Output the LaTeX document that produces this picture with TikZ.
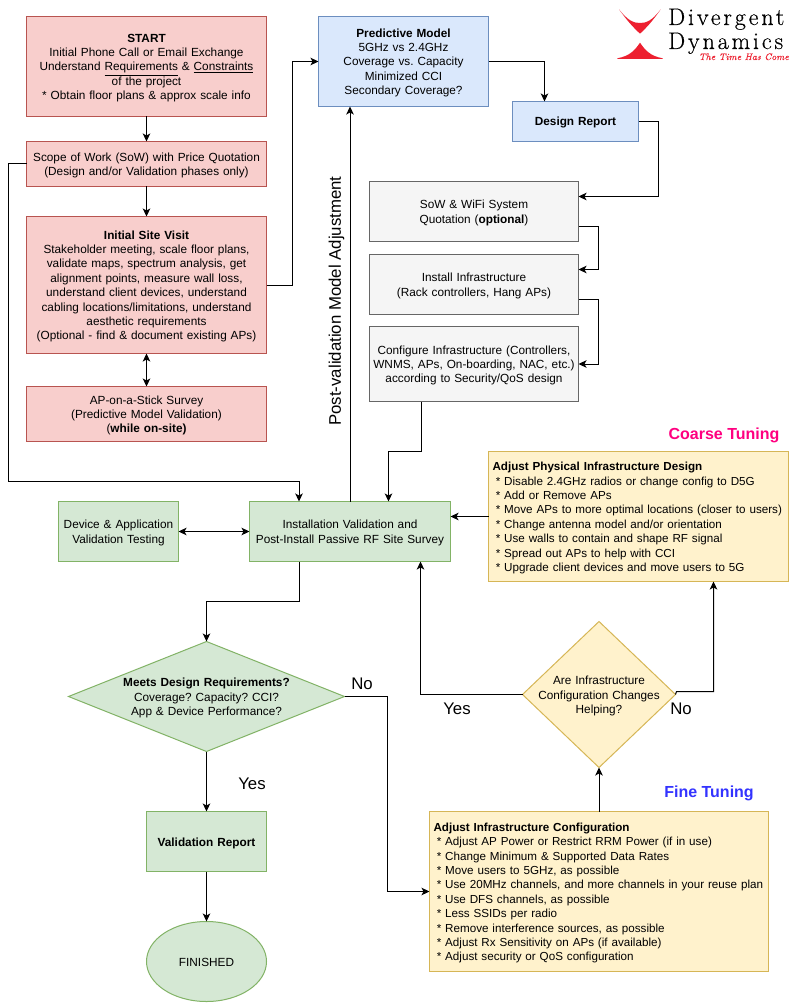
\documentclass[tikz,border=0pt]{standalone}
\usepackage{fontspec}
\setmainfont{Liberation Sans}
\newfontfamily\logofont[LetterSpace=12,FakeBold=0.4]{Latin Modern Roman}
\newfontfamily\logotag[FakeBold=0.3]{Latin Modern Roman}
\usetikzlibrary{arrows.meta,shapes.geometric}
\definecolor{redf}{HTML}{F8CECC}\definecolor{redd}{HTML}{B85450}
\definecolor{bluf}{HTML}{DAE8FC}\definecolor{blud}{HTML}{6C8EBF}
\definecolor{grnf}{HTML}{D5E8D4}\definecolor{grnd}{HTML}{82B366}
\definecolor{yelf}{HTML}{FFF2CC}\definecolor{yeld}{HTML}{D6B656}
\definecolor{gryf}{HTML}{F5F5F5}\definecolor{gryd}{HTML}{666666}
\definecolor{logored}{HTML}{ED2030}
\definecolor{coarse}{HTML}{FF0080}\definecolor{fine}{HTML}{3333FF}
\tikzset{
  base/.style={draw,line width=1pt,inner sep=2pt,outer sep=0pt,align=center,
    font=\fontsize{11.8}{14.4}\selectfont,
    execute at begin node={\frenchspacing\rule{0pt}{12pt}},
    execute at end node={\rule[-3pt]{0pt}{3pt}}},
  redbox/.style={base,rectangle,fill=redf,draw=redd,text width=232pt},
  blubox/.style={base,rectangle,fill=bluf,draw=blud},
  grnbox/.style={base,rectangle,fill=grnf,draw=grnd},
  grybox/.style={base,rectangle,fill=gryf,draw=gryd,text width=205pt},
  yelbox/.style={base,rectangle,fill=yelf,draw=yeld,align=left,inner sep=4pt,
    font=\fontsize{11.65}{14.4}\selectfont},
  grndia/.style={base,diamond,fill=grnf,draw=grnd,inner sep=-8pt,shape aspect=2.5,text width=180pt},
  yeldia/.style={base,diamond,fill=yelf,draw=yeld,inner sep=-8pt,shape aspect=1.05,text width=130pt},
  grnell/.style={base,ellipse,fill=grnf,draw=grnd,inner sep=0pt},
  conn/.style={draw=black,line width=1pt,>={Stealth[length=8pt,width=7.5pt,inset=2pt]},->},
  conntwo/.style={conn,<->},
  lbl/.style={inner sep=0pt,font=\fontsize{16.8}{19}\selectfont},
  tune/.style={inner sep=0pt,font=\fontsize{16}{19}\selectfont\bfseries},
}
\begin{document}
\begin{tikzpicture}[x=1pt,y=-1pt]
\useasboundingbox (0,0) rectangle (811,1003);
\fill[white] (0,0) rectangle (811,1003);

% logo
\fill[logored] (619,9.3) .. controls (628,21) and (634,23) .. (640,23)
  .. controls (646,23) and (652,21) .. (660.7,9.3)
  .. controls (652,22) and (646,28) .. (640,33.7)
  .. controls (634,28) and (628,22) .. (619,9.3) -- cycle;
\fill[logored] (640,42.7) .. controls (645,50) and (650,56) .. (662.7,58.3)
  -- (662.7,58.8) -- (617.3,58.8) -- (617.3,58.3)
  .. controls (630,56) and (635,50) .. (640,42.7) -- cycle;
\node[anchor=base west,inner sep=0pt,font=\fontsize{24}{26}\logofont] (lga) at (668,25) {Divergent};
\node[anchor=base west,inner sep=0pt,font=\fontsize{24}{26}\logofont] (lgb) at (668,49) {Dynamics};
\node[anchor=base east,inner sep=0pt,text=logored,font=\fontsize{9.5}{12}\logotag\itshape] (lgc) at (789,60) {The Time Has Come};

% red column
\node[redbox,minimum width=240pt,minimum height=100pt] (start) at (146.5,66.5)
 {\textbf{START}\\Initial Phone Call or Email Exchange\\Understand \underline{Requirements} \& \underline{Constraints}\\of the project\\{}* Obtain floor plans \& approx scale info};
\node[redbox,minimum width=240pt,minimum height=45pt] (sow) at (146.5,164)
 {Scope of Work (SoW) with Price Quotation\\(Design and/or Validation phases only)};
\node[redbox,minimum width=240pt,minimum height=137pt] (site) at (146.5,285)
 {\textbf{Initial Site Visit}\\Stakeholder meeting, scale floor plans,\\validate maps, spectrum analysis, get\\alignment points, measure wall loss,\\understand client devices, understand\\cabling locations/limitations, understand\\aesthetic requirements\\(Optional - find \& document existing APs)};
\node[redbox,minimum width=240pt,minimum height=55pt] (stick) at (146.5,414)
 {AP-on-a-Stick Survey\\(Predictive Model Validation)\\(\textbf{while on-site)}};

% blue
\node[blubox,text width=160pt,minimum width=170pt,minimum height=90pt] (pred) at (403.5,61.5)
 {\textbf{Predictive Model}\\5GHz vs 2.4GHz\\Coverage vs. Capacity\\Minimized CCI\\Secondary Coverage?};
\node[blubox,text width=118pt,minimum width=126pt,minimum height=40pt] (report) at (575.5,121.5)
 {\textbf{Design Report}};

% grey
\node[grybox,minimum width=209pt,minimum height=60pt] (quote) at (474,211.5)
 {SoW \& WiFi System\\Quotation (\textbf{optional})};
\node[grybox,minimum width=209pt,minimum height=60pt] (install) at (474,284.5)
 {Install Infrastructure\\(Rack controllers, Hang APs)};
\node[grybox,minimum width=209pt,minimum height=75pt] (config) at (474,364)
 {Configure Infrastructure (Controllers,\\WNMS, APs, On-boarding, NAC, etc.)\\according to Security/QoS design};

% green
\node[grnbox,text width=116pt,minimum width=120pt,minimum height=60pt] (device) at (118.5,531.5)
 {Device \& Application\\Validation Testing};
\node[grnbox,text width=197pt,minimum width=201pt,minimum height=60pt] (ival) at (350,531.5)
 {Installation Validation and\\Post-Install Passive RF Site Survey};
\node[grndia,minimum width=276pt,minimum height=110pt] (meets) at (206.5,696.5)
 {\textbf{Meets Design Requirements?}\\Coverage? Capacity? CCI?\\App \& Device Performance?};
\node[grnbox,text width=116pt,minimum width=120pt,minimum height=60pt] (vreport) at (206.5,841.5)
 {\textbf{Validation Report}};
\node[grnell,minimum width=120pt,minimum height=80pt] (done) at (206.5,961.5) {FINISHED};

% yellow
\node[yelbox,text width=292pt,minimum height=130pt] (phys) at (638.5,516.5)
 {\textbf{Adjust Physical Infrastructure Design}\\
  \hspace*{3.3pt}* Disable 2.4GHz radios or change config to D5G\\
  \hspace*{3.3pt}* Add or Remove APs\\
  \hspace*{3.3pt}\mbox{* Move APs to more optimal locations (closer to users)}\\
  \hspace*{3.3pt}* Change antenna model and/or orientation\\
  \hspace*{3.3pt}* Use walls to contain and shape RF signal\\
  \hspace*{3.3pt}* Spread out APs to help with CCI\\
  \hspace*{3.3pt}* Upgrade client devices and move users to 5G};
\node[yeldia,minimum width=153pt,minimum height=146pt] (helping) at (599,694.5)
 {Are Infrastructure\\Configuration Changes\\Helping?};
\node[yelbox,text width=331pt,minimum height=160pt] (tuning) at (599,891.5)
 {\textbf{Adjust Infrastructure Configuration}\\
  \hspace*{3.3pt}* Adjust AP Power or Restrict RRM Power (if in use)\\
  \hspace*{3.3pt}* Change Minimum \& Supported Data Rates\\
  \hspace*{3.3pt}* Move users to 5GHz, as possible\\
  \hspace*{3.3pt}\mbox{* Use 20MHz channels, and more channels in your reuse plan}\\
  \hspace*{3.3pt}* Use DFS channels, as possible\\
  \hspace*{3.3pt}* Less SSIDs per radio\\
  \hspace*{3.3pt}* Remove interference sources, as possible\\
  \hspace*{3.3pt}* Adjust Rx Sensitivity on APs (if available)\\
  \hspace*{3.3pt}* Adjust security or QoS configuration};

% labels
\node[tune,text=coarse] (lcoarse) at (724,435) {Coarse Tuning};
\node[tune,text=fine] (lfine) at (709,793) {Fine Tuning};
\node[lbl] (lyes1) at (252,784) {Yes};
\node[lbl] (lno1) at (362,684) {No};
\node[lbl] (lyes2) at (457,709) {Yes};
\node[lbl] (lno2) at (681,709) {No};
\node[lbl,rotate=90] (lpost) at (336.5,301) {Post-validation Model Adjustment};

% connectors
\draw[conn] (start.south) -- (sow.north);
\draw[conn] (sow.south) -- (site.north);
\draw[conntwo] (site.south) -- (stick.north);
\draw[conn] (sow.west) -- (8.5,164) -- (8.5,481.5) -- (299,481.5) -- ([xshift=-51pt]ival.north);
\draw[conn] (site.east) -- (292.5,285) -- (292.5,61.5) -- (pred.west);
\draw[conn] (pred.east) -- (544.5,61.5) -- ([xshift=-31pt]report.north);
\draw[conn] (report.east) -- (658.5,121.5) -- (658.5,196.5) -- ([yshift=15pt]quote.east);
\draw[conn] ([yshift=-15pt]quote.east) -- (598.5,226.5) -- (598.5,269.5) -- ([yshift=15pt]install.east);
\draw[conn] ([yshift=-15pt]install.east) -- (598.5,299.5) -- (598.5,364) -- (config.east);
\draw[conn] ([xshift=-52.5pt]config.south) -- (421.5,451.5) -- (388.5,451.5) -- ([xshift=38.5pt]ival.north);
\draw[conn] (ival.north) -- (pred.south -| ival.north);
\draw[conntwo] (device.east) -- (ival.west);
\draw[conn] (phys.west) -- (ival.east |- phys.west);
\draw[conn] ([xshift=-51pt]ival.south) -- (299,601.5) -- (206.5,601.5) -- (meets.north);
\draw[conn] (meets.south) -- (vreport.north);
\draw[conn] (vreport.south) -- (done.north);
\draw[conn] (meets.east) -- (387.5,696.5) -- (387.5,891.5) -- (tuning.west);
\draw[conn] (tuning.north) -- (helping.south);
\draw[conn] (helping.west) -- (420.5,694.5) -- ([xshift=70.5pt]ival.south);
\draw[conn] (helping.east) -- (676.5,691.5) -- (713.5,691.5) -- ([xshift=75pt]phys.south);
\end{tikzpicture}
\end{document}
